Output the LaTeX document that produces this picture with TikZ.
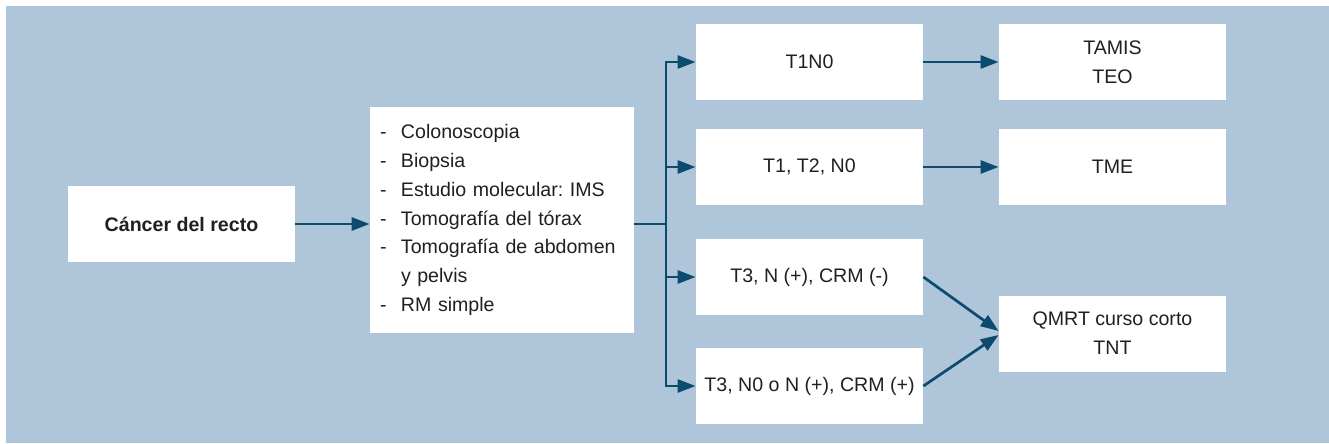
\documentclass[tikz,border=0pt]{standalone}
\usepackage{fontspec}
\setmainfont{Liberation Sans}
\usepackage{xcolor}
\usepackage{tikz}
\usetikzlibrary{arrows.meta}
\frenchspacing

\definecolor{bgblue}{HTML}{AFC6DA}
\definecolor{linkblue}{HTML}{0C4A6E}
\definecolor{txtgray}{HTML}{231F20}

\newcommand{\boxfont}{\fontsize{9.8}{14.4}\selectfont}
\newcommand{\dashitem}[1]{\makebox[10.5pt][l]{-}#1}

\tikzset{
  box/.style={fill=white, minimum width=113.5pt, minimum height=38pt, inner sep=2pt,
    align=center, text=txtgray, font=\boxfont},
  link/.style={draw=linkblue, line width=1.35pt, -{Triangle[length=9pt,width=6.5pt]}},
  trunk/.style={draw=linkblue, line width=1.35pt}
}

\begin{document}
\begin{tikzpicture}[x=0.5pt,y=-0.5pt]

\useasboundingbox (0,0) rectangle (1329,444);
\fill [bgblue] (6,6) rectangle (1329,443);

\node [box, font=\boxfont\bfseries] (cancer) at (181.5,224) {C\'ancer del recto};
\node [box, align=left, text width=122pt, inner xsep=5pt, minimum height=113pt] (estudios) at (502,220)
  {\dashitem{Colonoscopia}\\
   \dashitem{Biopsia}\\
   \dashitem{Estudio molecular: IMS}\\
   \dashitem{Tomograf\'ia del t\'orax}\\
   \dashitem{Tomograf\'ia de abdomen}\\
   \hspace*{10.5pt}y pelvis\\
   \dashitem{RM simple}};

\node [box] (tone) at (809.5,62) {T1N0};
\node [box] (ttwo) at (809.5,167) {T1, T2, N0};
\node [box] (tthreeneg) at (809.5,277) {T3, N (+), CRM (-)};
\node [box] (tthreepos) at (809.5,386) {T3, N0 o N (+), CRM (+)};

\node [box] (tamis) at (1112.5,62) {TAMIS\\TEO};
\node [box] (tme) at (1112.5,167) {TME};
\node [box] (qmrt) at (1112.5,333.5) {QMRT curso corto\\TNT};

\coordinate (fork) at (666,224);

\draw [link] (cancer.east) -- (cancer.east -| estudios.west);
\draw [trunk] (fork -| estudios.east) -- (fork);
\draw [link] (fork) |- (tone.west);
\draw [link] (fork) |- (ttwo.west);
\draw [link] (fork) |- (tthreeneg.west);
\draw [link] (fork) |- (tthreepos.west);

\draw [link] (tone.east) -- (tamis.west);
\draw [link] (ttwo.east) -- (tme.west);
\draw [link] (tthreeneg.east) -- ([yshift=1.25pt]qmrt.west);
\draw [link] (tthreepos.east) -- ([yshift=-0.75pt]qmrt.west);

\end{tikzpicture}
\end{document}
